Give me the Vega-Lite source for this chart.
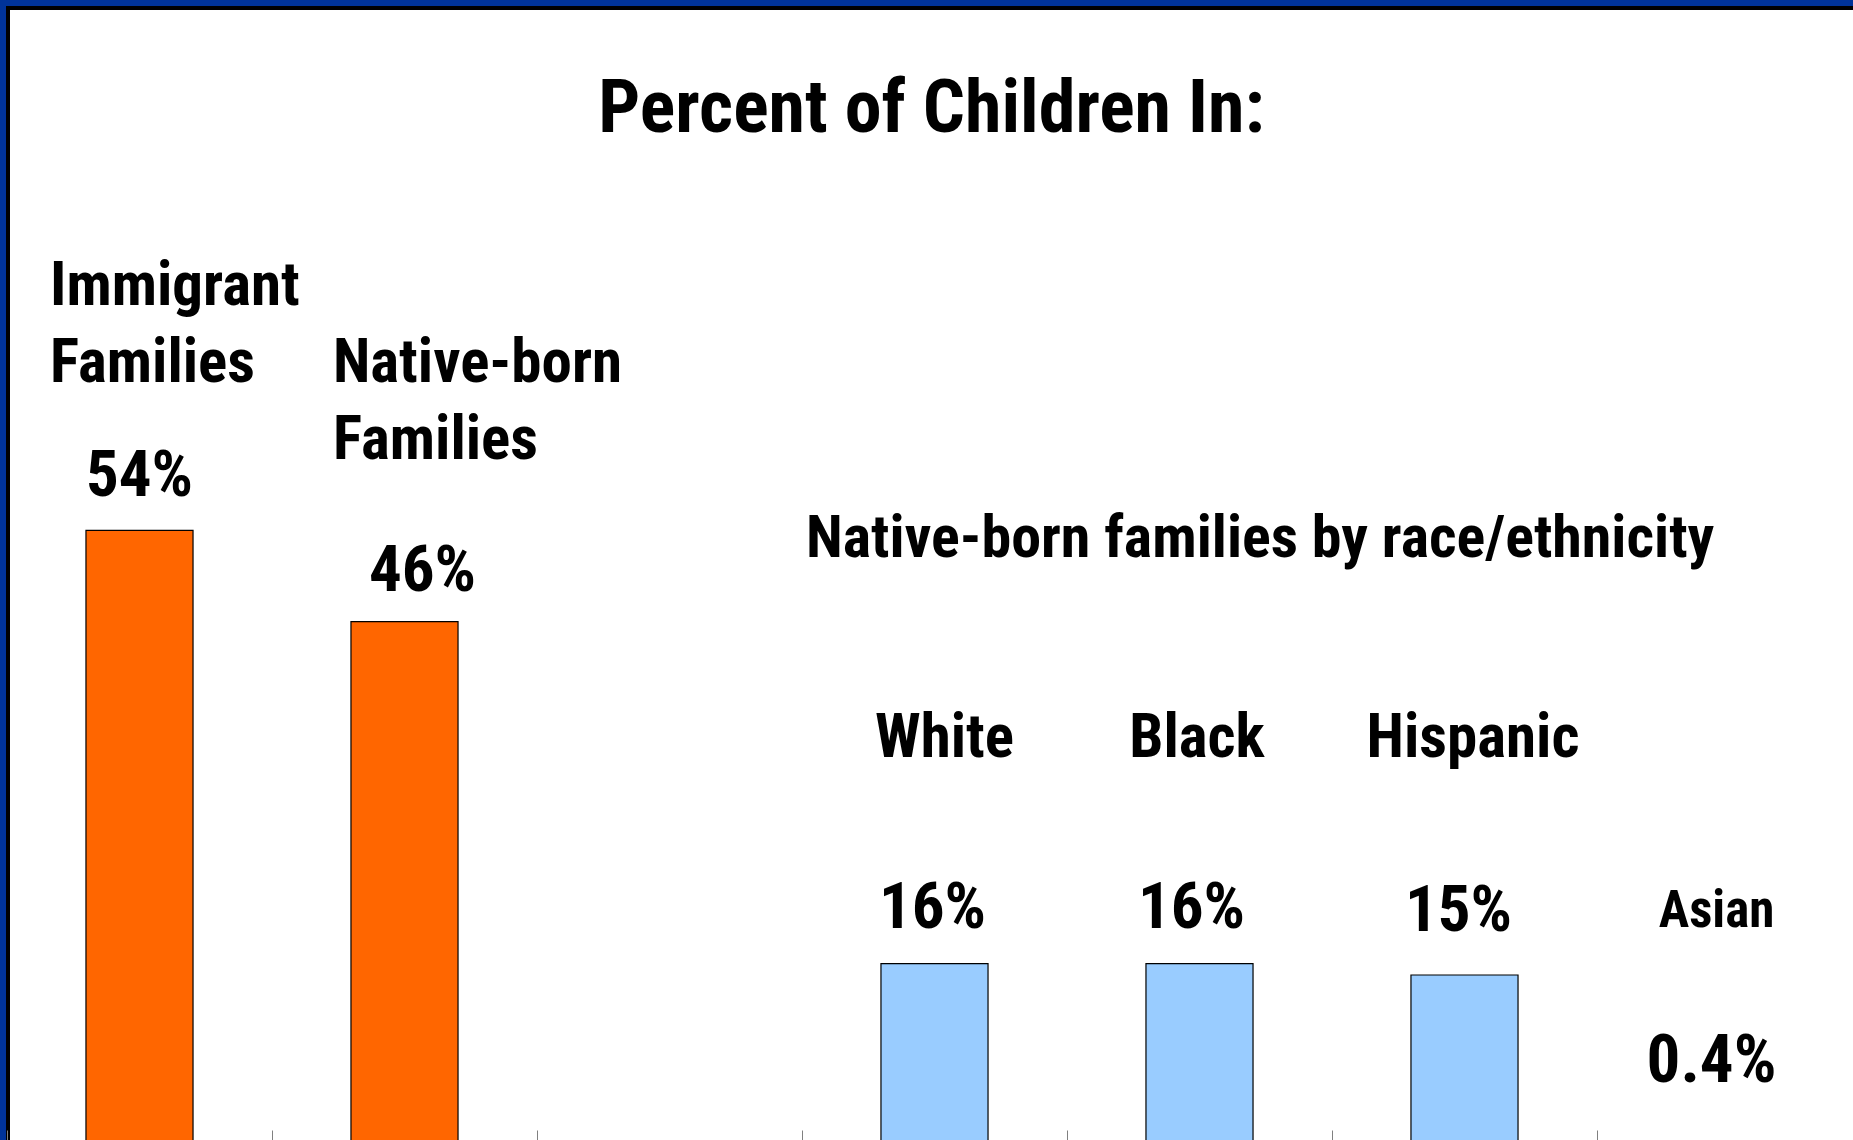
{
  "$schema": "https://vega.github.io/schema/vega-lite/v6.json",
  "autosize": {"type": "none"},
  "padding": {"left": 8, "top": 8, "right": -10, "bottom": -10},
  "width": 1855,
  "height": 1142,
  "background": "#003399",
  "title": {
    "text": "Percent of Children In:",
    "anchor": "middle",
    "frame": "group",
    "orient": "top",
    "offset": -198,
    "baseline": "alphabetic",
    "dx": -4,
    "font": "Roboto Condensed, Liberation Sans, sans-serif",
    "fontWeight": "bold",
    "fontSize": 74,
    "color": "black"
  },
  "config": {
    "view": {"fill": "white", "stroke": "black", "strokeWidth": 4},
    "text": {"font": "Roboto Condensed, Liberation Sans, sans-serif", "fontWeight": "bold", "baseline": "alphabetic", "color": "black"}
  },
  "data": {
    "values": [
      {"cat": "Immigrant Families", "group": "all", "value": 54, "label": "54%", "name": ["Immigrant", "Families"]},
      {"cat": "Native-born Families", "group": "all", "value": 46, "label": "46%", "name": ["Native-born", "Families"]},
      {"cat": "White", "group": "race", "value": 16, "label": "16%", "name": "White"},
      {"cat": "Black", "group": "race", "value": 16, "label": "16%", "name": "Black"},
      {"cat": "Hispanic", "group": "race", "value": 15, "label": "15%", "name": "Hispanic"},
      {"cat": "Asian", "group": "race", "value": 0.4, "label": "0.4%", "name": "Asian"}
    ]
  },
  "encoding": {
    "x": {
      "field": "cat",
      "type": "nominal",
      "scale": {
        "domain": ["Immigrant Families", "Native-born Families", "gap", "White", "Black", "Hispanic", "Asian"],
        "range": [-1, 1854],
        "paddingInner": 0,
        "paddingOuter": 0
      },
      "axis": {
        "orient": "bottom",
        "offset": -20,
        "domain": false,
        "labels": false,
        "title": null,
        "grid": false,
        "ticks": true,
        "bandPosition": 0,
        "tickSize": 20,
        "tickColor": "#808080",
        "tickWidth": 1
      }
    },
    "y": {
      "field": "value",
      "type": "quantitative",
      "scale": {"domain": [0, 100], "range": [1138, -2], "nice": false, "zero": false},
      "axis": null
    }
  },
  "layer": [
    {
      "mark": {"type": "bar", "width": {"band": 0.404}, "stroke": "black", "strokeWidth": 1.2},
      "encoding": {
        "color": {
          "field": "group",
          "type": "nominal",
          "scale": {"domain": ["all", "race"], "range": ["#FF6600", "#99CCFF"]},
          "legend": null
        }
      }
    },
    {
      "transform": [{"filter": {"field": "cat", "equal": "Immigrant Families"}}],
      "mark": {"type": "text", "align": "center", "dx": 0, "dy": -34, "fontSize": 65},
      "encoding": {"text": {"field": "label"}}
    },
    {
      "transform": [{"filter": {"field": "cat", "equal": "Native-born Families"}}],
      "mark": {"type": "text", "align": "center", "dx": 18, "dy": -31, "fontSize": 65},
      "encoding": {"text": {"field": "label"}}
    },
    {
      "transform": [{"filter": {"field": "cat", "equal": "White"}}],
      "mark": {"type": "text", "align": "center", "dx": -2, "dy": -35.6, "fontSize": 65},
      "encoding": {"text": {"field": "label"}}
    },
    {
      "transform": [{"filter": {"field": "cat", "equal": "Black"}}],
      "mark": {"type": "text", "align": "center", "dx": -8, "dy": -35.6, "fontSize": 65},
      "encoding": {"text": {"field": "label"}}
    },
    {
      "transform": [{"filter": {"field": "cat", "equal": "Hispanic"}}],
      "mark": {"type": "text", "align": "center", "dx": -6, "dy": -44, "fontSize": 65},
      "encoding": {"text": {"field": "label"}}
    },
    {
      "transform": [{"filter": {"field": "cat", "equal": "Asian"}}],
      "mark": {"type": "text", "align": "center", "dx": -18, "dy": -59.4, "fontSize": 67},
      "encoding": {"text": {"field": "label"}}
    },
    {
      "transform": [{"filter": {"field": "cat", "equal": "Immigrant Families"}}],
      "mark": {"type": "text", "align": "left", "dx": -89.5, "dy": -225.4, "fontSize": 61, "lineHeight": 77},
      "encoding": {"text": {"field": "name"}}
    },
    {
      "transform": [{"filter": {"field": "cat", "equal": "Native-born Families"}}],
      "mark": {"type": "text", "align": "left", "dx": -71.5, "dy": -239.6, "fontSize": 61, "lineHeight": 77},
      "encoding": {"text": {"field": "name"}}
    },
    {
      "transform": [{"filter": {"field": "cat", "equal": "White"}}],
      "mark": {"type": "text", "align": "center", "dx": 10, "dy": -206.6, "fontSize": 61},
      "encoding": {"text": {"field": "name"}}
    },
    {
      "transform": [{"filter": {"field": "cat", "equal": "Black"}}],
      "mark": {"type": "text", "align": "center", "dx": -2.5, "dy": -206.6, "fontSize": 61},
      "encoding": {"text": {"field": "name"}}
    },
    {
      "transform": [{"filter": {"field": "cat", "equal": "Hispanic"}}],
      "mark": {"type": "text", "align": "center", "dx": 8.5, "dy": -218, "fontSize": 61},
      "encoding": {"text": {"field": "name"}}
    },
    {
      "transform": [{"filter": {"field": "cat", "equal": "Asian"}}],
      "mark": {"type": "text", "align": "center", "dx": -13, "dy": -214.4, "fontSize": 51},
      "encoding": {"text": {"field": "name"}}
    },
    {
      "transform": [{"filter": {"field": "cat", "equal": "White"}}],
      "mark": {"type": "text", "align": "left", "dx": -128.5, "dy": -406.6, "fontSize": 60},
      "encoding": {"text": {"value": "Native-born families by race/ethnicity"}}
    }
  ]
}
